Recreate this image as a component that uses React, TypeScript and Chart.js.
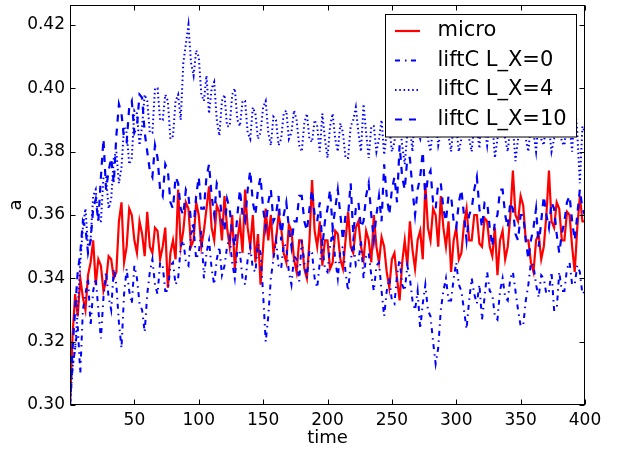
import React, { useEffect, useRef } from "react";
import { Chart, registerables } from "chart.js";

Chart.register(...registerables);

// time axis samples (every 2 time units)
const TIME = [
  0, 2, 4, 6, 8, 10, 12, 14, 16, 18, 20, 22, 24, 26, 28, 30, 32, 34, 36, 38,
  40, 42, 44, 46, 48, 50, 52, 54, 56, 58, 60, 62, 64, 66, 68, 70, 72, 74, 76, 78,
  80, 82, 84, 86, 88, 90, 92, 94, 96, 98, 100, 102, 104, 106, 108, 110, 112, 114, 116, 118,
  120, 122, 124, 126, 128, 130, 132, 134, 136, 138, 140, 142, 144, 146, 148, 150, 152, 154, 156, 158,
  160, 162, 164, 166, 168, 170, 172, 174, 176, 178, 180, 182, 184, 186, 188, 190, 192, 194, 196, 198,
  200, 202, 204, 206, 208, 210, 212, 214, 216, 218, 220, 222, 224, 226, 228, 230, 232, 234, 236, 238,
  240, 242, 244, 246, 248, 250, 252, 254, 256, 258, 260, 262, 264, 266, 268, 270, 272, 274, 276, 278,
  280, 282, 284, 286, 288, 290, 292, 294, 296, 298, 300, 302, 304, 306, 308, 310, 312, 314, 316, 318,
  320, 322, 324, 326, 328, 330, 332, 334, 336, 338, 340, 342, 344, 346, 348, 350, 352, 354, 356, 358,
  360, 362, 364, 366, 368, 370, 372, 374, 376, 378, 380, 382, 384, 386, 388, 390, 392, 394, 396, 398,
  400,
];

const MICRO = [
  0.300, 0.322, 0.335, 0.328, 0.340, 0.334, 0.330, 0.341, 0.345, 0.352,
  0.338, 0.346, 0.344, 0.336, 0.339, 0.347, 0.346, 0.340, 0.342, 0.358,
  0.364, 0.345, 0.350, 0.362, 0.360, 0.352, 0.348, 0.358, 0.354, 0.347,
  0.361, 0.350, 0.348, 0.356, 0.355, 0.346, 0.350, 0.356, 0.337, 0.348,
  0.352, 0.346, 0.368, 0.350, 0.355, 0.364, 0.362, 0.350, 0.352, 0.364,
  0.360, 0.350, 0.355, 0.362, 0.369, 0.356, 0.352, 0.363, 0.361, 0.352,
  0.366, 0.356, 0.350, 0.360, 0.343, 0.352, 0.358, 0.348, 0.368, 0.356,
  0.350, 0.360, 0.345, 0.354, 0.338, 0.350, 0.362, 0.352, 0.360, 0.348,
  0.352, 0.360, 0.356, 0.348, 0.345, 0.357, 0.355, 0.346, 0.342, 0.352,
  0.352, 0.343, 0.340, 0.352, 0.371, 0.355, 0.350, 0.358, 0.344, 0.352,
  0.352, 0.343, 0.345, 0.355, 0.354, 0.346, 0.343, 0.352, 0.361, 0.350,
  0.348, 0.356, 0.358, 0.350, 0.346, 0.355, 0.352, 0.345, 0.360, 0.350,
  0.345, 0.353, 0.350, 0.342, 0.337, 0.346, 0.348, 0.340, 0.333, 0.345,
  0.352, 0.344, 0.358, 0.349, 0.343, 0.352, 0.355, 0.346, 0.370, 0.356,
  0.352, 0.362, 0.360, 0.350, 0.366, 0.356, 0.350, 0.358, 0.342, 0.352,
  0.356, 0.346, 0.348, 0.357, 0.362, 0.352, 0.352, 0.360, 0.360, 0.351,
  0.350, 0.359, 0.358, 0.350, 0.347, 0.356, 0.341, 0.352, 0.355, 0.346,
  0.350, 0.360, 0.374, 0.360, 0.358, 0.366, 0.363, 0.352, 0.352, 0.345,
  0.342, 0.352, 0.354, 0.346, 0.350, 0.360, 0.374, 0.358, 0.356, 0.364,
  0.362, 0.352, 0.352, 0.361, 0.360, 0.350, 0.342, 0.356, 0.366, 0.358,
  0.358,
];

const LIFT_LX0 = [
  0.300, 0.312, 0.318, 0.325, 0.310, 0.330, 0.335, 0.340, 0.325, 0.336,
  0.340, 0.330, 0.321, 0.334, 0.342, 0.334, 0.330, 0.343, 0.338, 0.326,
  0.318, 0.335, 0.343, 0.336, 0.332, 0.344, 0.340, 0.332, 0.330, 0.323,
  0.335, 0.342, 0.346, 0.338, 0.335, 0.345, 0.344, 0.336, 0.336, 0.344,
  0.345, 0.338, 0.340, 0.350, 0.352, 0.345, 0.344, 0.354, 0.356, 0.346,
  0.348, 0.355, 0.340, 0.348, 0.352, 0.343, 0.338, 0.346, 0.350, 0.341,
  0.344, 0.350, 0.353, 0.345, 0.340, 0.349, 0.348, 0.340, 0.338, 0.346,
  0.350, 0.343, 0.342, 0.351, 0.348, 0.335, 0.320, 0.328, 0.340, 0.346,
  0.352, 0.344, 0.343, 0.351, 0.350, 0.342, 0.338, 0.347, 0.346, 0.339,
  0.352, 0.345, 0.340, 0.349, 0.348, 0.340, 0.337, 0.345, 0.350, 0.343,
  0.342, 0.350, 0.355, 0.346, 0.340, 0.349, 0.350, 0.342, 0.336, 0.345,
  0.352, 0.344, 0.345, 0.352, 0.340, 0.347, 0.348, 0.341, 0.336, 0.344,
  0.345, 0.336, 0.328, 0.336, 0.340, 0.333, 0.332, 0.341, 0.346, 0.338,
  0.336, 0.344, 0.340, 0.333, 0.330, 0.336, 0.324, 0.332, 0.338, 0.330,
  0.328, 0.320, 0.313, 0.318, 0.330, 0.336, 0.340, 0.333, 0.333, 0.340,
  0.345, 0.338, 0.336, 0.330, 0.324, 0.333, 0.340, 0.335, 0.332, 0.338,
  0.327, 0.334, 0.342, 0.336, 0.335, 0.328, 0.327, 0.336, 0.340, 0.334,
  0.333, 0.340, 0.342, 0.336, 0.330, 0.325, 0.325, 0.333, 0.338, 0.345,
  0.344, 0.338, 0.334, 0.341, 0.340, 0.335, 0.336, 0.342, 0.330, 0.330,
  0.342, 0.336, 0.336, 0.343, 0.345, 0.338, 0.338, 0.344, 0.342, 0.335,
  0.336,
];

const LIFT_LX4 = [
  0.300, 0.312, 0.318, 0.330, 0.345, 0.356, 0.362, 0.350, 0.352, 0.366,
  0.368, 0.358, 0.358, 0.372, 0.372, 0.362, 0.365, 0.378, 0.380, 0.370,
  0.375, 0.388, 0.386, 0.376, 0.378, 0.393, 0.392, 0.382, 0.388, 0.398,
  0.396, 0.386, 0.386, 0.400, 0.400, 0.390, 0.390, 0.398, 0.396, 0.384,
  0.385, 0.396, 0.398, 0.390, 0.408, 0.414, 0.420, 0.408, 0.404, 0.412,
  0.410, 0.398, 0.396, 0.404, 0.392, 0.400, 0.402, 0.390, 0.385, 0.396,
  0.398, 0.388, 0.388, 0.398, 0.400, 0.390, 0.388, 0.396, 0.396, 0.386,
  0.384, 0.394, 0.392, 0.384, 0.386, 0.394, 0.396, 0.386, 0.382, 0.391,
  0.390, 0.382, 0.384, 0.392, 0.393, 0.384, 0.386, 0.393, 0.390, 0.382,
  0.380, 0.389, 0.392, 0.384, 0.383, 0.390, 0.388, 0.380, 0.392, 0.384,
  0.378, 0.388, 0.392, 0.384, 0.380, 0.389, 0.386, 0.378, 0.378, 0.388,
  0.390, 0.394, 0.386, 0.380, 0.395, 0.386, 0.378, 0.388, 0.388, 0.380,
  0.384, 0.390, 0.379, 0.386, 0.388, 0.380, 0.383, 0.391, 0.390, 0.382,
  0.376, 0.386, 0.388, 0.380, 0.395, 0.386, 0.384, 0.392, 0.392, 0.384,
  0.380, 0.388, 0.390, 0.382, 0.386, 0.394, 0.394, 0.385, 0.380, 0.389,
  0.388, 0.380, 0.384, 0.392, 0.392, 0.384, 0.380, 0.389, 0.388, 0.381,
  0.396, 0.388, 0.382, 0.390, 0.390, 0.378, 0.384, 0.392, 0.392, 0.384,
  0.380, 0.388, 0.388, 0.377, 0.384, 0.392, 0.392, 0.384, 0.380, 0.389,
  0.386, 0.380, 0.390, 0.384, 0.382, 0.390, 0.388, 0.380, 0.384, 0.392,
  0.390, 0.383, 0.382, 0.390, 0.388, 0.380, 0.396, 0.386, 0.370, 0.388,
  0.386,
];

const LIFT_LX10 = [
  0.300, 0.318, 0.330, 0.342, 0.348, 0.358, 0.356, 0.348, 0.352, 0.362,
  0.365, 0.358, 0.372, 0.384, 0.368, 0.374, 0.378, 0.370, 0.385, 0.395,
  0.392, 0.384, 0.383, 0.394, 0.396, 0.386, 0.388, 0.398, 0.397, 0.386,
  0.380, 0.374, 0.372, 0.382, 0.378, 0.368, 0.366, 0.376, 0.374, 0.364,
  0.362, 0.372, 0.370, 0.362, 0.360, 0.368, 0.366, 0.358, 0.356, 0.366,
  0.372, 0.362, 0.362, 0.372, 0.376, 0.366, 0.360, 0.370, 0.368, 0.358,
  0.355, 0.365, 0.362, 0.354, 0.350, 0.360, 0.368, 0.360, 0.358, 0.368,
  0.374, 0.364, 0.360, 0.368, 0.372, 0.362, 0.356, 0.364, 0.368, 0.358,
  0.360, 0.366, 0.352, 0.360, 0.364, 0.356, 0.350, 0.358, 0.358, 0.366,
  0.366, 0.358, 0.355, 0.362, 0.368, 0.360, 0.358, 0.364, 0.350, 0.358,
  0.362, 0.368, 0.356, 0.362, 0.368, 0.360, 0.352, 0.360, 0.360, 0.370,
  0.354, 0.362, 0.364, 0.356, 0.358, 0.366, 0.370, 0.360, 0.352, 0.360,
  0.366, 0.358, 0.376, 0.366, 0.360, 0.368, 0.372, 0.364, 0.382, 0.372,
  0.368, 0.378, 0.378, 0.368, 0.360, 0.368, 0.372, 0.380, 0.365, 0.372,
  0.374, 0.364, 0.362, 0.370, 0.370, 0.362, 0.358, 0.366, 0.366, 0.358,
  0.356, 0.364, 0.368, 0.360, 0.352, 0.360, 0.362, 0.368, 0.372, 0.362,
  0.356, 0.364, 0.364, 0.356, 0.350, 0.358, 0.360, 0.368, 0.368, 0.360,
  0.356, 0.364, 0.362, 0.354, 0.352, 0.360, 0.360, 0.352, 0.346, 0.352,
  0.356, 0.362, 0.350, 0.358, 0.366, 0.360, 0.356, 0.364, 0.362, 0.354,
  0.348, 0.354, 0.358, 0.364, 0.366, 0.358, 0.352, 0.360, 0.368, 0.362,
  0.360,
];

const X_TICKS = [50, 100, 150, 200, 250, 300, 350, 400];
const Y_TICKS = [0.3, 0.32, 0.34, 0.36, 0.38, 0.4, 0.42];
const LABELS = ["micro", "liftC L_X=0", "liftC L_X=4", "liftC L_X=10"];

const FONT = "'DejaVu Sans', sans-serif";

const framePlugin = {
  id: "frameAndLegend",
  afterDraw(chart: any) {
    const ctx = chart.ctx as CanvasRenderingContext2D;
    const { left, right, top, bottom } = chart.chartArea;
    const xs = chart.scales.x;
    const ys = chart.scales.y;
    ctx.save();
    ctx.strokeStyle = "#000";
    ctx.lineWidth = 1;
    ctx.setLineDash([]);
    const L = Math.round(left) + 0.5;
    const R = Math.round(right) - 0.5;
    const T = Math.round(top) + 0.5;
    const B = Math.round(bottom) - 0.5;
    ctx.strokeRect(L, T, R - L, B - T);
    const tl = 5;
    ctx.beginPath();
    for (const v of X_TICKS) {
      const px = Math.round(xs.getPixelForValue(v)) + 0.5;
      ctx.moveTo(px, B);
      ctx.lineTo(px, B - tl);
      ctx.moveTo(px, T);
      ctx.lineTo(px, T + tl);
    }
    for (const v of Y_TICKS) {
      const py = Math.round(ys.getPixelForValue(v)) + 0.5;
      ctx.moveTo(L, py);
      ctx.lineTo(L + tl, py);
      ctx.moveTo(R, py);
      ctx.lineTo(R - tl, py);
    }
    ctx.stroke();

    // legend
    const bx = 385.5, by = 14.5, bw = 191, bh = 122.5;
    ctx.fillStyle = "#fff";
    ctx.fillRect(bx, by, bw, bh);
    ctx.strokeStyle = "#000";
    ctx.lineWidth = 1;
    ctx.strokeRect(bx, by, bw, bh);
    const rows = [31, 60.5, 90, 119.5];
    chart.data.datasets.forEach((ds: any, i: number) => {
      const y = rows[i];
      ctx.save();
      ctx.strokeStyle = ds.borderColor;
      ctx.lineWidth = ds.borderWidth;
      ctx.setLineDash(ds.borderDash || []);
      ctx.beginPath();
      ctx.moveTo(395, y);
      ctx.lineTo(420, y);
      ctx.stroke();
      ctx.restore();
      ctx.fillStyle = "#000";
      ctx.font = `21px ${FONT}`;
      ctx.textBaseline = "middle";
      ctx.textAlign = "left";
      ctx.fillText(LABELS[i], 437.5, y);
    });
    ctx.restore();
  },
};

export default function App() {
  const ref = useRef<HTMLCanvasElement>(null);
  useEffect(() => {
    if (!ref.current) return;
    const mk = (arr: number[]) => TIME.map((t, i) => ({ x: t, y: arr[i] }));
    const chart = new Chart(ref.current, {
      type: "line",
      data: {
        datasets: [
          {
            label: LABELS[0],
            data: mk(MICRO),
            borderColor: "#ff0000",
            borderWidth: 2.2,
            borderDash: [],
            pointRadius: 0,
            tension: 0,
            order: 3,
          },
          {
            label: LABELS[1],
            data: mk(LIFT_LX0),
            borderColor: "#0000ff",
            borderWidth: 2,
            borderDash: [5, 5, 1.5, 4.5],
            pointRadius: 0,
            tension: 0,
            order: 2,
          },
          {
            label: LABELS[2],
            data: mk(LIFT_LX4),
            borderColor: "#0000ff",
            borderWidth: 2,
            borderDash: [1.5, 2.8],
            pointRadius: 0,
            tension: 0,
            order: 1,
          },
          {
            label: LABELS[3],
            data: mk(LIFT_LX10),
            borderColor: "#0000ff",
            borderWidth: 2.2,
            borderDash: [7, 7],
            pointRadius: 0,
            tension: 0,
            order: 0,
          },
        ],
      },
      options: {
        animation: false,
        responsive: false,
        devicePixelRatio: 1,
        layout: { padding: { top: 5, right: 36, left: 0, bottom: 0 } },
        plugins: { legend: { display: false }, tooltip: { enabled: false } },
        scales: {
          x: {
            type: "linear",
            min: 0,
            max: 400,
            grid: { display: false, drawTicks: false },
            border: { display: false },
            afterBuildTicks: (s: any) => {
              s.ticks = X_TICKS.map((v) => ({ value: v }));
            },
            afterFit: (s: any) => {
              s.height = 44;
              s.paddingLeft = 0;
              s.paddingRight = 0;
            },
            ticks: {
              color: "#000",
              font: { family: FONT, size: 17 },
              padding: 5,
              maxRotation: 0,
              autoSkip: false,
            },
            title: {
              display: true,
              text: "time",
              color: "#000",
              font: { family: FONT, size: 18 },
              padding: { top: 0, bottom: 0 },
            },
          },
          y: {
            type: "linear",
            min: 0.3,
            max: 0.4263,
            grid: { display: false, drawTicks: false },
            border: { display: false },
            afterBuildTicks: (s: any) => {
              s.ticks = Y_TICKS.map((v) => ({ value: v }));
            },
            afterFit: (s: any) => {
              s.width = 70;
              s.paddingTop = 0;
              s.paddingBottom = 0;
            },
            ticks: {
              color: "#000",
              font: { family: FONT, size: 17 },
              padding: 5,
              autoSkip: false,
              callback: (v: any) => Number(v).toFixed(2),
            },
            title: {
              display: true,
              text: "a",
              color: "#000",
              font: { family: FONT, size: 18 },
              padding: { top: 6, bottom: 0 },
            },
          },
        },
      },
      plugins: [framePlugin],
    });
    return () => chart.destroy();
  }, []);
  return (
    <div style={{ position: "fixed", left: 0, top: 0, width: 621, height: 449, background: "#fff" }}>
      <canvas ref={ref} width={621} height={449} style={{ display: "block" }} />
    </div>
  );
}
